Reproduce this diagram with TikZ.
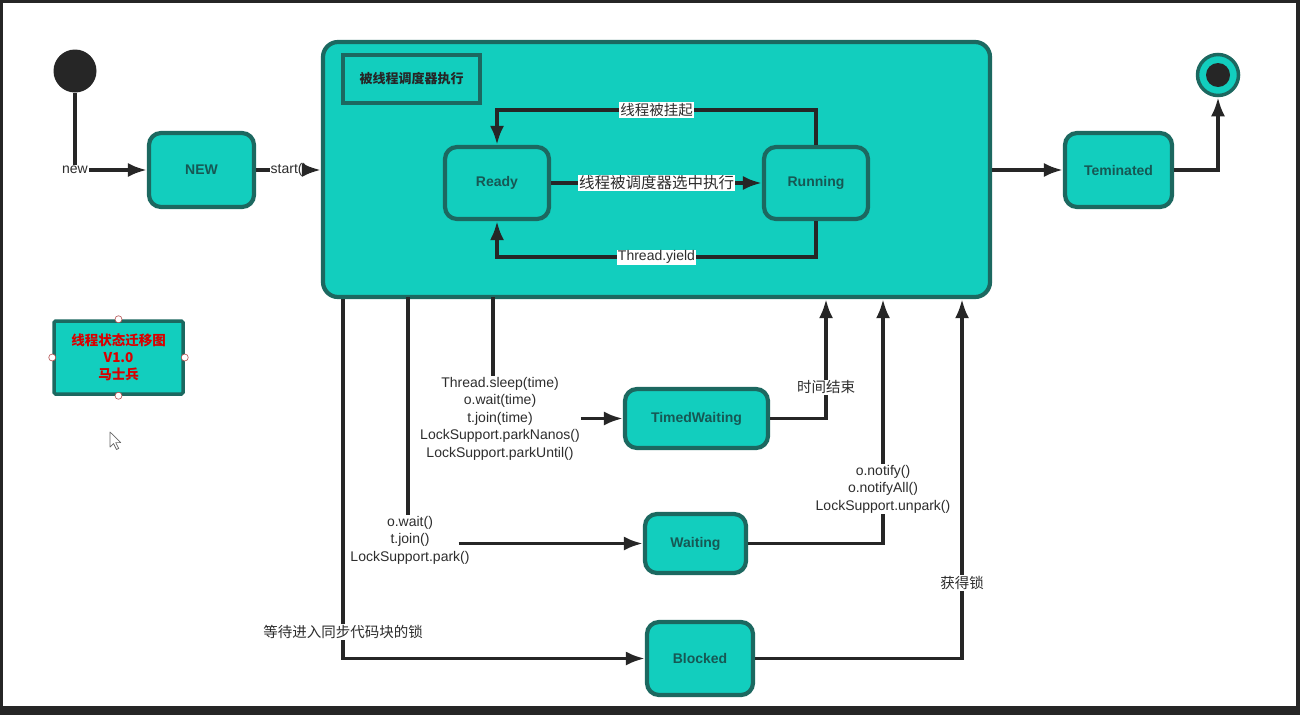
\documentclass[tikz,border=0pt]{standalone}
\usepackage{fontspec}
\setmainfont{Liberation Sans}
\newfontfamily\cjk{Noto Sans CJK SC}
\usetikzlibrary{arrows.meta,positioning}

\definecolor{tealfill}{RGB}{18,206,190}
\definecolor{tealdark}{RGB}{28,104,96}
\definecolor{tealtext}{RGB}{22,88,84}
\definecolor{linegray}{RGB}{38,38,38}
\definecolor{lbltext}{RGB}{45,45,45}

\tikzset{
	state/.style={draw=tealdark,fill=tealfill,line width=4.2pt,rounded corners=12pt,
		text=tealtext,font=\bfseries\fontsize{14}{16}\selectfont,inner sep=0pt},
	wire/.style={draw=linegray,line width=3.5pt},
	flow/.style={wire,-{Latex[length=19pt,width=14pt]}},
	lbl/.style={text=lbltext,font=\fontsize{14}{17.5}\selectfont,align=center,inner sep=1pt},
	cjklbl/.style={lbl,font=\cjk\fontsize{14.5}{17.5}\selectfont,fill=white},
}

\begin{document}
\begin{tikzpicture}[x=1pt,y=-1pt]
	% screen frame
	\fill[black!85] (0,0) rectangle (1300,715);
	\fill[white] (3,3) rectangle (1296,706);
	\useasboundingbox (0,0) rectangle (1300,715);

	% the scheduler box
	\node[state,rounded corners=15pt,minimum width=667pt,minimum height=255pt] (sched) at (656.5,169.5) {};
	\node[draw=tealdark,line width=3.8pt,minimum width=137pt,minimum height=48pt,
		font=\cjk\bfseries\fontsize{13}{15}\selectfont,text=linegray] (schedtag) at (411.5,79) {被线程调度器执行};

	\node[state,minimum width=104pt,minimum height=72pt] (ready) at (497,183) {Ready};
	\node[state,minimum width=104pt,minimum height=72pt] (running) at (816,183) {Running};

	\node[state,minimum width=105pt,minimum height=74pt] (NEW) at (201.5,170) {NEW};
	\node[state,minimum width=107pt,minimum height=74pt] (teminated) at (1118.5,170) {Teminated};
	\node[state,minimum width=143pt,minimum height=59pt] (timed) at (696.5,418.5) {TimedWaiting};
	\node[state,minimum width=101pt,minimum height=59pt] (waiting) at (695.5,543.5) {Waiting};
	\node[state,minimum width=106pt,minimum height=73pt] (blocked) at (700,658.5) {Blocked};

	% initial and final states
	\node[circle,fill=linegray,minimum size=43pt,inner sep=0pt] (start) at (75,71) {};
	\node[circle,draw=tealdark,fill=tealfill,line width=3.5pt,minimum size=41pt,inner sep=0pt] (final) at (1218,75) {};
	\node[circle,fill=linegray,minimum size=24pt,inner sep=0pt] at (final) {};

	% NEW and start()
	\node[lbl] (newlbl) at (75,170) {new};
	\node[lbl] (startlbl) at (289,170) {start()};
	\draw[wire] (start.south) -- (newlbl.north);
	\draw[flow] (newlbl.east) -- (NEW.west);
	\draw[wire] (NEW.east) -- (startlbl.west);
	\draw[flow] (startlbl.east) -- (sched.west |- startlbl.east);

	% inside the scheduler
	\draw[flow] (ready.east) -- node[cjklbl,font=\cjk\fontsize{15.5}{17}\selectfont] {线程被调度器选中执行} (running.west);
	\draw[flow] (running.north) -- ++(0,-35) -| node[pos=0.25,cjklbl] {线程被挂起} (ready.north);
	\draw[flow] (running.south) -- ++(0,36) -| node[pos=0.25,lbl,fill=white] {Thread.yield} (ready.south);

	% termination
	\draw[flow] (sched.east |- teminated.west) -- (teminated.west);
	\draw[flow] (teminated.east) -| (final.south);

	% TimedWaiting
	\node[lbl] (timedlbl) at (500,418.5) {Thread.sleep(time)\\o.wait(time)\\t.join(time)\\LockSupport.parkNanos()\\LockSupport.parkUntil()};
	\coordinate (timedout) at (493,297);
	\coordinate (timeup) at (826,418.5);
	\draw[wire] (timedout) -- (timedout |- timedlbl.north);
	\draw[flow] (timedlbl.east |- timed.west) -- (timed.west);
	\draw[flow] (timed.east) -- (timeup) -- node[pos=0.26,cjklbl] {时间结束} (sched.south -| timeup);

	% Waiting
	\node[lbl] (waitlbl) at (410,540) {o.wait()\\t.join()\\LockSupport.park()};
	\node[lbl] (notifylbl) at (883,489) {o.notify()\\o.notifyAll()\\LockSupport.unpark()};
	\coordinate (waitout) at (408,297);
	\draw[wire] (waitout) -- (waitout |- waitlbl.north);
	\draw[flow] ([xshift=-12pt]waitlbl.east |- waiting.west) -- (waiting.west);
	\draw[wire] (waiting.east) -| (notifylbl.south);
	\draw[flow] (notifylbl.north) -- (sched.south -| notifylbl.north);

	% Blocked
	\coordinate (lockwait) at (343,658.5);
	\coordinate (lockgot) at (962,658.5);
	\draw[flow] (sched.south -| lockwait) -- (lockwait) -- (blocked.west);
	\node[cjklbl] (locklbl) at (343,632) {等待进入同步代码块的锁};
	\draw[flow] (blocked.east) -- (lockgot) -- node[pos=0.21,cjklbl] {获得锁} (sched.south -| lockgot);

	% legend with its selection handles
	\node[draw=tealdark,fill=tealfill,line width=3.5pt,rounded corners=1.5pt,minimum width=129pt,minimum height=73pt,
		align=center,text=red!85!black,font=\cjk\bfseries\fontsize{13.5}{17}\selectfont] (legend) at (118.5,357.5) {线程状态迁移图\\V1.0\\马士兵};
	\foreach \side in {north,south,east,west}{
		\node[circle,draw=red!40!gray,fill=white,line width=0.6pt,minimum size=7pt,inner sep=0pt] at (legend.\side) {};
	}

	% mouse pointer
	\draw[black!60,fill=white,line width=0.7pt,line join=round] (110,432) -- ++(0,15) -- ++(3.5,-3.5) -- ++(3,6) -- ++(2.2,-1.1) -- ++(-3,-5.8) -- ++(5,0) -- cycle;
\end{tikzpicture}
\end{document}
